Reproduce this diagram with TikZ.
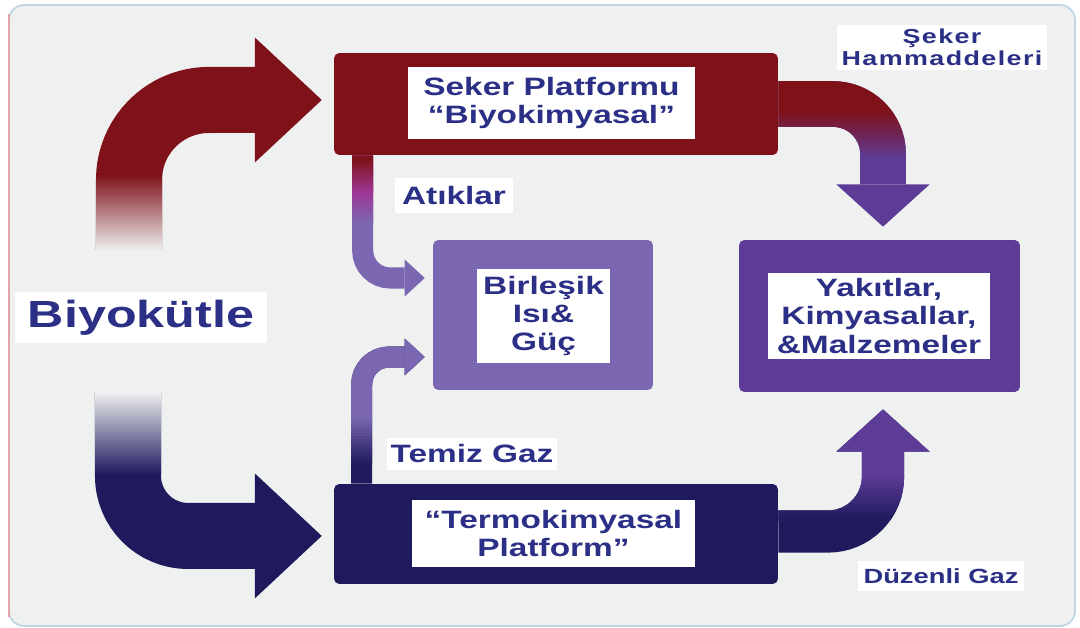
\documentclass[tikz,border=0pt]{standalone}
\usepackage{fontspec}
\setmainfont{Liberation Sans}[FakeStretch=1.33]
\usetikzlibrary{arrows.meta,calc}

\definecolor{zemin}{HTML}{EFF1F1}
\definecolor{cerceve}{HTML}{BFD5E4}
\definecolor{solcizgi}{HTML}{E4A4AE}
\definecolor{kirmizi}{HTML}{7F1119}
\definecolor{lacivert}{HTML}{1F1A5E}
\definecolor{lavanta}{HTML}{7B67B1}
\definecolor{mor}{HTML}{5D3C98}
\definecolor{pembe}{HTML}{9E3694}
\definecolor{yazi}{HTML}{2B2F85}

% renk gecisi: yol bantlar halinde yeniden cizilir
\newcommand{\renkgecis}[6]{%
  \begin{scope}
    \clip (0,0) rectangle (1080,#4);
    \draw[#1, color=#2] #6;
  \end{scope}
  \foreach \k in {0,...,14}{%
    \pgfmathsetmacro{\ya}{#4+(#5-#4)*\k/15}
    \pgfmathsetmacro{\yb}{#4+(#5-#4)*(\k+1)/15+0.6}
    \pgfmathtruncatemacro{\p}{100*(\k+0.5)/15}
    \begin{scope}
      \clip (0,\ya) rectangle (1080,\yb);
      \draw[#1, color=#3!\p!#2] #6;
    \end{scope}
  }%
}

\begin{document}
\begin{tikzpicture}[x=0.02cm, y=-0.02cm,
    kutu/.style={rounded corners=3pt, inner sep=0pt},
    etiket/.style={fill=white, inner sep=0pt, text=yazi, align=center,
      font=\bfseries\fontsize{14.3pt}{16pt}\selectfont},
    buyukok/.style={line width=37.6pt, -{Triangle[length=38pt,width=71pt,line width=0pt]},
      rounded corners=1.6cm, shorten >=6.8pt},
    sagok/.style={line width=26pt, -{Triangle[length=24pt,width=53pt,line width=0pt]},
      rounded corners=1cm, shorten >=7.4pt},
    inceok/.style={line width=12pt, -{Triangle[length=11.4pt,width=21pt,line width=0pt]},
      rounded corners=0.55cm, shorten >=4.5pt}]

    \useasboundingbox (0,0) rectangle (1080,628);
    \fill[white] (0,0) rectangle (1080,628);
    \draw[cerceve, fill=zemin, line width=1pt, rounded corners=0.3cm] (9,5) rectangle (1075,626);
    \draw[solcizgi, line width=1pt] (9,14) -- (9,617);

    % kutular
    \node[kutu, fill=kirmizi, minimum width=8.88cm, minimum height=2.04cm] (seker) at (556,104) {};
    \node[kutu, fill=lacivert, minimum width=8.88cm, minimum height=2cm] (termo) at (556,534) {};
    \node[kutu, fill=lavanta, minimum width=4.4cm, minimum height=3cm] (chp) at (543,315) {};
    \node[kutu, fill=mor, minimum width=5.62cm, minimum height=3.04cm] (urun) at (879.5,316) {};

    \node[etiket, minimum width=5.74cm, minimum height=1.44cm] (sekeryazi) at (551.5,103)
        {Seker Platformu\\``Biyokimyasal''};
    \node[etiket, minimum width=5.66cm, minimum height=1.34cm] (termoyazi) at (553.5,533.5)
        {``Termokimyasal\\Platform''};
    \node[etiket, minimum width=2.66cm, minimum height=1.88cm] (chpyazi) at (543.5,316)
        {Birleşik\\Isı\&\\Güç};
    \node[etiket, minimum width=4.44cm, minimum height=1.72cm] (urunyazi) at (879,316)
        {Yakıtlar,\\Kimyasallar,\\\&Malzemeler};
    \node[etiket, minimum width=5.04cm, minimum height=1.02cm,
        font=\bfseries\fontsize{21.5pt}{24pt}\selectfont] (bio) at (141,317.5) {Biyokütle};
    \node[etiket, minimum width=2.36cm, minimum height=0.7cm] (atik) at (454,195.5) {Atıklar};
    \node[etiket, minimum width=3.4cm, minimum height=0.64cm] (temiz) at (472,454) {Temiz Gaz};
    \node[etiket, minimum width=4.2cm, minimum height=0.9cm,
        font=\bfseries\fontsize{11.5pt}{12.5pt}\selectfont\addfontfeatures{LetterSpace=7}]
        (hammadde) at (942,47.5) {Şeker\\Hammaddeleri};
    \node[etiket, minimum width=3.32cm, minimum height=0.6cm,
        font=\bfseries\fontsize{11.7pt}{13pt}\selectfont] (duzenli) at (941,576) {Düzenli Gaz};

    % biyokütle oklari
    \coordinate (bioUst) at (129,250);
    \coordinate (bioAlt) at (128,392);
    \draw[buyukok, kirmizi] (bioUst) |- ([yshift=2.3pt]seker.west);
    \shade[top color=kirmizi, bottom color=zemin] (96,175) rectangle (162,250.5);
    \draw[buyukok, lacivert, rounded corners=1.2cm] (bioAlt) |- ([yshift=-1.1pt]termo.west);
    \shade[top color=zemin, bottom color=lacivert] (95,391.5) rectangle (161,474);

    % platformlardan urunlere
    \draw[sagok, mor] (seker.east) -| ([xshift=2pt]urun.north);
    \renkgecis{sagok}{kirmizi}{mor}{112}{160}{(seker.east) -| ([xshift=2pt]urun.north)}
    \draw[sagok, lacivert, line width=24pt, shorten >=9.7pt, rounded corners=1.1cm]
        ([yshift=1.4pt]termo.east) -| ([xshift=2pt]urun.south);
    \renkgecis{sagok, line width=24pt, shorten >=9.7pt, rounded corners=1.1cm}{mor}{lacivert}{476}{520}
        {([yshift=1.4pt]termo.east) -| ([xshift=2pt]urun.south)}

    % atiklar ve temiz gaz
    \draw[inceok, lavanta] ($(seker.south west)+(29,0)$) |- ($(chp.west)+(0,-37)$);
    \renkgecis{inceok}{pembe}{lavanta}{192}{224}{($(seker.south west)+(29,0)$) |- ($(chp.west)+(0,-37)$)}
    \renkgecis{inceok}{kirmizi}{pembe}{160}{192}{($(seker.south west)+(29,0)$) |- ($(chp.west)+(0,-37)$)}
    \draw[inceok, lacivert] ($(termo.north west)+(28,0)$) |- ($(chp.west)+(0,42)$);
    \renkgecis{inceok}{lavanta}{lacivert}{418}{464}{($(termo.north west)+(28,0)$) |- ($(chp.west)+(0,42)$)}

\end{tikzpicture}
\end{document}
